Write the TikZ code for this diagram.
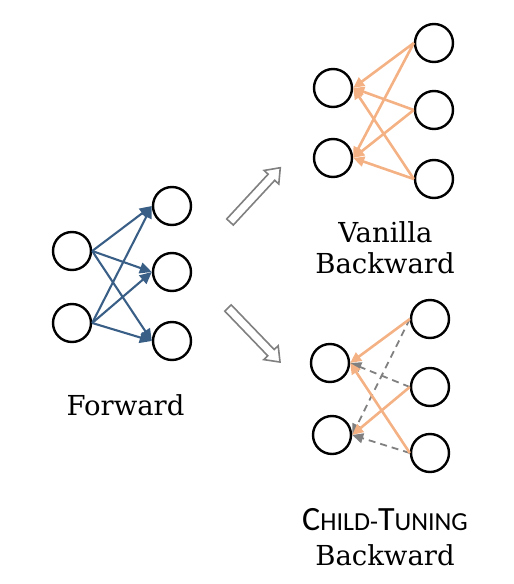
\documentclass[tikz,border=0pt]{standalone}
\usepackage{fontspec}
\setmainfont{DejaVu Serif}
\newfontfamily\carl{Carlito}
\usetikzlibrary{arrows.meta}
\definecolor{fwblue}{RGB}{58,95,135}
\definecolor{bworange}{RGB}{244,177,131}
\definecolor{dgray}{RGB}{128,128,128}
\tikzset{
  neuron/.style={circle,draw=black,line width=2.4pt,minimum size=38pt,inner sep=0pt},
  fwarrow/.style={draw=fwblue,line width=2.1pt,-{Triangle[length=12pt,width=11pt]}},
  bwarrow/.style={draw=bworange,line width=2.6pt,-{Triangle[length=11pt,width=10pt]}},
  masked/.style={draw=dgray,line width=1.8pt,dash pattern=on 7pt off 5pt,-{Triangle[length=11pt,width=10pt]}},
  lbl/.style={anchor=base,inner sep=0pt,font=\fontsize{27.5}{30}\selectfont},
  hollow/.style={draw=dgray,fill=white,line width=1.6pt,line join=miter}
}
\begin{document}
\begin{tikzpicture}[x=1pt,y=-1pt]
\useasboundingbox (0,0) rectangle (514,584);
% Forward
\node[neuron] (fl1) at (72,251) {};
\node[neuron] (fl2) at (72,323) {};
\node[neuron] (fr1) at (172,206) {};
\node[neuron] (fr2) at (172,272) {};
\node[neuron] (fr3) at (172,341) {};
\foreach \a in {fl1,fl2}
  \foreach \b in {fr1,fr2,fr3}
    \draw[fwarrow] (\a.east) -- (\b.west);
\node[lbl] (tf) at (125.5,415) {Forward};
% Vanilla backward
\node[neuron] (vl1) at (333,88) {};
\node[neuron] (vl2) at (333,158) {};
\node[neuron] (vr1) at (434,43) {};
\node[neuron] (vr2) at (434,110) {};
\node[neuron] (vr3) at (434,179) {};
\foreach \a in {vr1,vr2,vr3}
  \foreach \b in {vl1,vl2}
    \draw[bwarrow] (\a.west) -- (\b.east);
\node[lbl] (tv1) at (385.5,242) {Vanilla};
\node[lbl] (tv2) at (385,273) {Backward};
% Child-Tuning backward
\node[neuron] (cl1) at (330,363) {};
\node[neuron] (cl2) at (332,435) {};
\node[neuron] (cr1) at (430,319) {};
\node[neuron] (cr2) at (430,387) {};
\node[neuron] (cr3) at (430,453) {};
\draw[masked] (cr1.west) -- (cl2.east);
\draw[masked] (cr2.west) -- (cl1.east);
\draw[masked] (cr3.west) -- (cl2.east);
\draw[bwarrow] (cr1.west) -- (cl1.east);
\draw[bwarrow] (cr2.west) -- (cl2.east);
\draw[bwarrow] (cr3.west) -- (cl1.east);
\node[anchor=base,inner sep=0pt] (tc1) at (385,530) {\carl\fontsize{34}{34}\selectfont C\fontsize{26}{26}\selectfont HILD-\fontsize{34}{34}\selectfont T\fontsize{26}{26}\selectfont UNING};
\node[lbl] (tc2) at (385,565) {Backward};
% hollow arrows
\begin{scope}[shift={(230,222)},rotate=47.2]
\draw[hollow] (0,-4.5) -- (61,-4.5) -- (61,-10) -- (74,0) -- (61,10) -- (61,4.5) -- (0,4.5) -- cycle;
\end{scope}
\begin{scope}[shift={(228,308)},rotate=-46.1]
\draw[hollow] (0,-4.5) -- (62,-4.5) -- (62,-10) -- (75,0) -- (62,10) -- (62,4.5) -- (0,4.5) -- cycle;
\end{scope}
\end{tikzpicture}
\end{document}
